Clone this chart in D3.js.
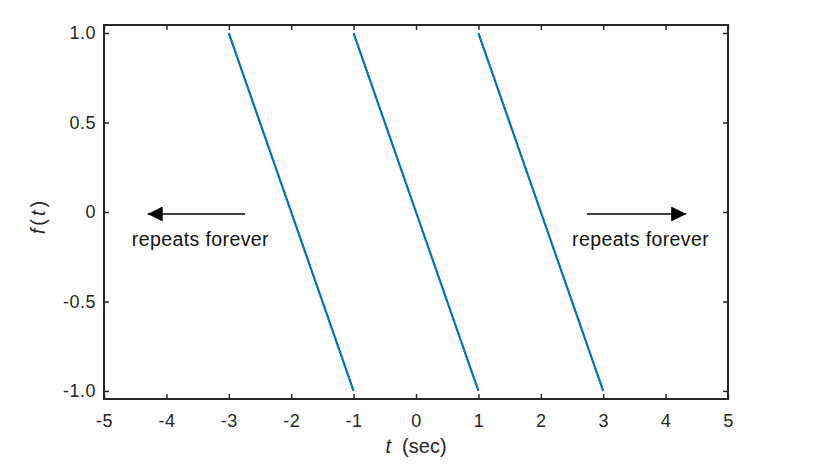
<!DOCTYPE html>
<html><head><meta charset="utf-8">
<script src="https://cdn.jsdelivr.net/npm/d3@7"></script>
<style>body{margin:0;background:#fff;} text{font-family:"Liberation Sans",Arial,sans-serif;}</style>
</head><body>
<svg id="c" width="820" height="474"></svg>
<script>
const segments = [
  [[-3, 1], [-1, -1]],
  [[-1, 1], [1, -1]],
  [[1, 1], [3, -1]]
];
const xTicks = [-5, -4, -3, -2, -1, 0, 1, 2, 3, 4, 5];
const xTickLabels = ["-5", "-4", "-3", "-2", "-1", "0", "1", "2", "3", "4", "5"];
const yTicks = [-1.0, -0.5, 0, 0.5, 1.0];
const yTickLabels = ["-1.0", "-0.5", "0", "0.5", "1.0"];
const arrows = [
  {from: [-2.74, 0], to: [-4.3, 0], label: "repeats forever"},
  {from: [2.74, 0], to: [4.33, 0], label: "repeats forever"}
];

const svg = d3.select("#c");
const L = 104, R = 728, T = 25, B = 399;
const x = d3.scaleLinear().domain([-5, 5]).range([L, R]);
const y = d3.scaleLinear().domain([-1.045, 1.045]).range([B, T]);
const axCol = "#262626";

// data lines
const line = d3.line().x(d => x(d[0])).y(d => y(d[1]));
svg.selectAll("path.seg").data(segments).enter().append("path")
  .attr("d", line).attr("fill", "none").attr("stroke", "#0072BD").attr("stroke-width", 2.2);

// axes
const gx = svg.append("g").attr("transform", `translate(0,${B})`)
  .call(d3.axisBottom(x).tickValues(xTicks).tickSizeInner(-5).tickSizeOuter(0).tickPadding(15).tickFormat((d, i) => xTickLabels[i]));
const gxt = svg.append("g").attr("transform", `translate(0,${T})`)
  .call(d3.axisTop(x).tickValues(xTicks).tickSizeInner(-5).tickSizeOuter(0).tickFormat(""));
const gy = svg.append("g").attr("transform", `translate(${L},0)`)
  .call(d3.axisLeft(y).tickValues(yTicks).tickSizeInner(-5).tickSizeOuter(0).tickPadding(8).tickFormat((d, i) => yTickLabels[i]));
const gyr = svg.append("g").attr("transform", `translate(${R},0)`)
  .call(d3.axisRight(y).tickValues(yTicks).tickSizeInner(-5).tickSizeOuter(0).tickFormat(""));
[gx, gxt, gy, gyr].forEach(g => {
  g.select(".domain").remove();
  g.selectAll("line").attr("stroke", axCol).attr("stroke-width", 1.5);
  g.selectAll("text").attr("fill", axCol).style("font-size", "18px").style("letter-spacing", "0.5px")
    .style("font-family", "'Liberation Sans',Arial,sans-serif");
});
svg.append("rect").attr("x", L).attr("y", T).attr("width", R - L).attr("height", B - T)
  .attr("fill", "none").attr("stroke", axCol).attr("stroke-width", 2);

// arrows
svg.append("defs").append("marker").attr("id", "ah")
  .attr("viewBox", "0 0 10 10").attr("refX", 10).attr("refY", 5)
  .attr("markerWidth", 17).attr("markerHeight", 15).attr("markerUnits", "userSpaceOnUse")
  .attr("orient", "auto").append("path").attr("d", "M0,0L10,5L0,10Z").attr("fill", "#000");
arrows.forEach(a => {
  svg.append("line").attr("x1", x(a.from[0])).attr("y1", y(a.from[1]) + 2)
    .attr("x2", x(a.to[0])).attr("y2", y(a.to[1]) + 2)
    .attr("stroke", "#000").attr("stroke-width", 1.3).attr("marker-end", "url(#ah)");
  svg.append("text").attr("x", (x(a.from[0]) + x(a.to[0])) / 2 + 4).attr("y", y(0) + 34)
    .attr("text-anchor", "middle").style("font-size", "19.5px").style("letter-spacing", "0.4px")
    .attr("fill", "#111").text(a.label);
});

// axis labels
const xl = svg.append("text").attr("x", (L + R) / 2).attr("y", 453).attr("text-anchor", "middle")
  .style("font-size", "20px").attr("fill", axCol);
xl.append("tspan").style("font-style", "italic").text("t");
xl.append("tspan").text("\u00a0\u00a0(sec)");
const yl = svg.append("text").attr("transform", `translate(45,${(T + B) / 2 + 4}) rotate(-90)`)
  .attr("text-anchor", "middle").style("font-size", "20px").style("letter-spacing", "3px").attr("fill", axCol);
yl.append("tspan").style("font-style", "italic").text("f");
yl.append("tspan").text("(");
yl.append("tspan").style("font-style", "italic").text("t");
yl.append("tspan").text(")");
</script>
</body></html>
